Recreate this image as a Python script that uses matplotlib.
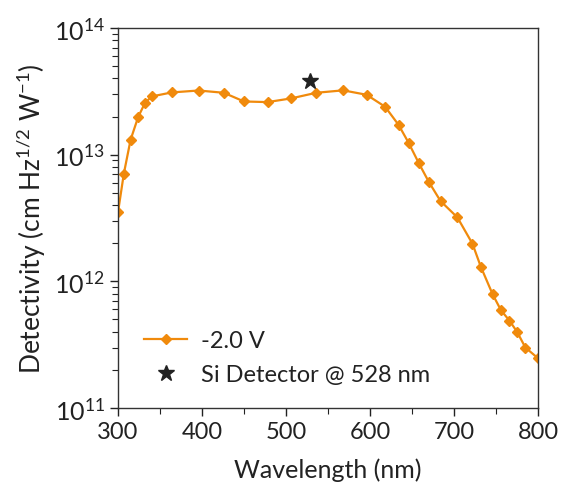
import numpy as np
import matplotlib
matplotlib.use("Agg")
import matplotlib.pyplot as plt
from matplotlib.ticker import LogLocator, FixedLocator, NullFormatter

plt.rcParams['font.family'] = ['Lato', 'DejaVu Sans']
plt.rcParams['font.weight'] = 'normal'
plt.rcParams['mathtext.fontset'] = 'custom'
plt.rcParams['mathtext.rm'] = 'Lato'
plt.rcParams['mathtext.it'] = 'Lato'
plt.rcParams['text.color'] = '#222222'
plt.rcParams['axes.labelcolor'] = '#222222'
plt.rcParams['xtick.color'] = '#222222'
plt.rcParams['ytick.color'] = '#222222'

# wavelength (nm) and detectivity at -2.0 V
wavelength = [300, 307, 315, 324, 332, 340, 364, 396, 426, 450, 478, 506,
              536, 568, 596, 618, 634, 646, 658, 670, 684, 704, 722, 732,
              746, 756, 766, 775, 785, 800]
detectivity = [3.5e12, 7.1e12, 1.31e13, 1.98e13, 2.55e13, 2.88e13, 3.10e13,
               3.21e13, 3.08e13, 2.63e13, 2.60e13, 2.78e13, 3.08e13, 3.22e13,
               2.97e13, 2.39e13, 1.72e13, 1.24e13, 8.6e12, 6.1e12, 4.3e12,
               3.2e12, 1.98e12, 1.30e12, 7.9e11, 5.9e11, 4.9e11, 4.0e11,
               3.0e11, 2.47e11]

si_wavelength = [528]
si_detectivity = [3.8e13]

fig = plt.figure(figsize=(5.61, 4.89), dpi=100)
ax = fig.add_axes([0.2103, 0.1636, 0.7487, 0.7771])

ax.plot(wavelength, detectivity, color='#f08a0c', lw=1.6, marker='D',
        markersize=5, label='-2.0 V')
ax.plot(si_wavelength, si_detectivity, ls='none', marker='*', color='#222222',
        markersize=12, label='Si Detector @ 528 nm')

ax.set_yscale('log')
ax.set_xlim(300, 800)
ax.set_ylim(1e11, 1e14)

ax.set_xticks([300, 400, 500, 600, 700, 800])
ax.xaxis.set_minor_locator(FixedLocator([350, 450, 550, 650, 750]))
ax.yaxis.set_minor_locator(LogLocator(base=10, subs=np.arange(2, 10), numticks=20))
ax.yaxis.set_minor_formatter(NullFormatter())
ax.set_yticks([1e11, 1e12, 1e13, 1e14])
ax.set_yticklabels([r'$\mathregular{10^{11}}$', r'$\mathregular{10^{12}}$',
                    r'$\mathregular{10^{13}}$', r'$\mathregular{10^{14}}$'])

ax.tick_params(axis='x', which='major', labelsize=17)
ax.tick_params(axis='y', which='major', labelsize=18)
ax.tick_params(which='major', direction='out', length=6, width=1)
ax.tick_params(which='minor', direction='out', length=4, width=0.8)
for s in ax.spines.values():
    s.set_linewidth(1.0)
    s.set_color('#333333')

ax.set_xlabel('Wavelength (nm)', fontsize=18, labelpad=11)
ax.set_ylabel(r'Detectivity (cm Hz$^{1/2}$ W$^{-1}$)', fontsize=19, labelpad=4)

ax.legend(loc='lower left', bbox_to_anchor=(0.012, 0.005), frameon=False,
          fontsize=17, handlelength=1.8, handletextpad=0.6, labelspacing=0.55)

fig.savefig('out.png', dpi=100)
